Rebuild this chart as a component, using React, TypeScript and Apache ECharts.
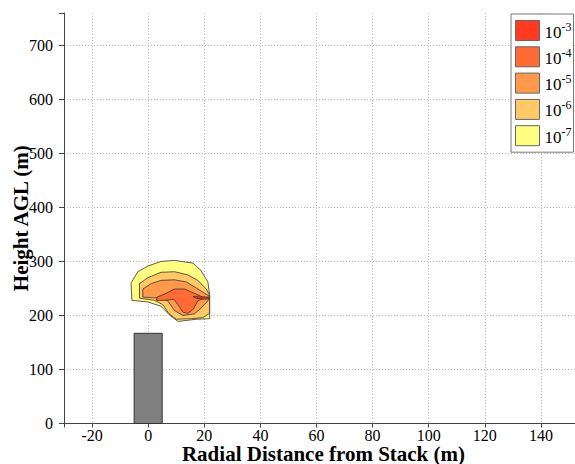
import React, { useEffect, useRef } from 'react';
import * as echarts from 'echarts';

// Concentration levels (exponents of 10), drawn from lowest to highest
const levelExponents = ['-7', '-6', '-5', '-4', '-3'];
const levelColors = ['#ffff80', '#ffc966', '#ff9a4d', '#ff6a35', '#ff3a1f'];

// Contour polygons [radial distance (m), height (m)]
const contour7: [number, number][] = [
  [-5.8, 228], [-6.1, 260], [-3.7, 281], [0.1, 292], [4.6, 300], [9.4, 302],
  [16.0, 297], [18.7, 284], [21.3, 262], [21.9, 238], [21.9, 194], [17.1, 193],
  [10.6, 189], [7.6, 201], [4.6, 217], [-0.1, 225],
];
const contour6: [number, number][] = [
  [-3.1, 232], [-3.1, 259], [-0.1, 270], [4.6, 280], [9.4, 281], [14.2, 275],
  [17.7, 265], [20.7, 249], [21.9, 238], [21.9, 204], [19.5, 196], [15.4, 194],
  [10.0, 193], [7.3, 204], [5.2, 220], [2.3, 228],
];
const contour5: [number, number][] = [
  [-1.9, 234], [-1.9, 249], [1.1, 259], [4.6, 265], [9.4, 266], [13.6, 262],
  [17.1, 251], [20.1, 241], [21.9, 236], [21.3, 227], [18.9, 214], [16.5, 203],
  [12.4, 200], [9.4, 209], [7.0, 227], [4.0, 232],
];
const contour4: [number, number][] = [
  [2.9, 228], [3.2, 234], [6.4, 241], [9.4, 249], [13.0, 249], [16.5, 241],
  [19.5, 234], [21.9, 233], [19.5, 231], [17.7, 227], [16.0, 211], [14.2, 204],
  [12.4, 206], [10.6, 220], [9.2, 230], [5.8, 228],
];
const contour3: [number, number][] = [
  [16.0, 235], [19.5, 234], [21.9, 234], [21.9, 231], [19.5, 230], [17.1, 232],
];
const contours = [contour7, contour6, contour5, contour4, contour3];

// Stack
const stackX = [-5, 5];
const stackHeight = 167;

// Tick labels
const xTicks = [-20, 0, 20, 40, 60, 80, 100, 120, 140];
const yTicks = [0, 100, 200, 300, 400, 500, 600, 700];

const FONT = '"Liberation Serif", "Times New Roman", serif';

export default function App() {
  const ref = useRef<HTMLDivElement>(null);
  useEffect(() => {
    if (!ref.current) return;
    const chart = echarts.init(ref.current, null, { renderer: 'svg' });

    const contourSeries = contours.map((pts, i) => ({
      type: 'custom',
      name: levelExponents[i],
      coordinateSystem: 'cartesian2d',
      silent: true,
      z: 3 + i,
      itemStyle: { color: levelColors[i] },
      data: [[pts[0][0], pts[0][1]]],
      renderItem: (_p: any, api: any) => ({
        type: 'polygon',
        shape: { points: pts.map((p) => api.coord(p)) },
        style: { fill: levelColors[i], stroke: '#3a3030', lineWidth: 0.8 },
      }),
    }));

    const stackSeries = {
      type: 'custom',
      name: 'stack',
      coordinateSystem: 'cartesian2d',
      silent: true,
      z: 2,
      data: [[stackX[0], stackHeight]],
      renderItem: (_p: any, api: any) => {
        const tl = api.coord([stackX[0], stackHeight]);
        const br = api.coord([stackX[1], 0]);
        return {
          type: 'rect',
          shape: { x: tl[0], y: tl[1], width: br[0] - tl[0], height: br[1] - tl[1] },
          style: { fill: '#808080', stroke: '#333', lineWidth: 1 },
        };
      },
    };

    chart.setOption({
      animation: false,
      backgroundColor: '#fff',
      grid: {
        left: 64,
        top: 13,
        width: 519,
        height: 410.5,
        containLabel: false,
        outerBoundsMode: 'none',
      },
      xAxis: {
        type: 'value',
        min: -30,
        max: 155,
        minInterval: 20,
        maxInterval: 20,
        splitNumber: 9,
        name: 'Radial Distance from Stack (m)',
        nameLocation: 'middle',
        nameGap: 20,
        nameMoveOverlap: false,
        nameTextStyle: {
          fontFamily: FONT,
          fontWeight: 'bold',
          fontSize: 21,
          lineHeight: 21,
          color: '#000',
        },
        axisLine: { show: true, onZero: false, lineStyle: { color: '#444', width: 1 } },
        axisTick: { show: true, inside: false, length: 4, lineStyle: { color: '#444' } },
        axisLabel: {
          fontFamily: FONT,
          fontSize: 16,
          lineHeight: 16,
          color: '#000',
          margin: 4,
          formatter: (v: number) => (xTicks.includes(v) ? String(v) : ''),
        },
        splitLine: {
          show: true,
          showMinLine: false,
          showMaxLine: false,
          lineStyle: { color: '#b8b8b8', type: [1, 2], width: 1 },
        },
      },
      yAxis: {
        type: 'value',
        min: 0,
        max: 760,
        interval: 100,
        name: 'Height AGL (m)',
        nameLocation: 'middle',
        nameGap: 33,
        nameMoveOverlap: false,
        nameTextStyle: { fontFamily: FONT, fontWeight: 'bold', fontSize: 21, color: '#000' },
        axisLine: { show: true, onZero: false, lineStyle: { color: '#444', width: 1 } },
        axisTick: { show: true, inside: false, length: 5, lineStyle: { color: '#444' } },
        axisLabel: {
          fontFamily: FONT,
          fontSize: 16,
          color: '#000',
          margin: 11,
          formatter: (v: number) => (yTicks.includes(v) ? String(v) : ''),
        },
        splitLine: {
          show: true,
          showMinLine: false,
          showMaxLine: false,
          lineStyle: { color: '#b8b8b8', type: [1, 2], width: 1 },
        },
      },
      legend: {
        show: true,
        orient: 'vertical',
        left: 511,
        top: 14,
        padding: [6, 2, 6, 4],
        itemWidth: 24,
        itemHeight: 20,
        itemGap: 5.3,
        icon: 'rect',
        backgroundColor: '#fff',
        borderColor: '#777',
        borderWidth: 1,
        borderRadius: 0,
        selectedMode: false,
        itemStyle: { borderColor: '#666', borderWidth: 1 },
        data: [...levelExponents].reverse(),
        formatter: (name: string) => `{a|10}{b|${name}}`,
        textStyle: {
          fontFamily: FONT,
          color: '#000',
          rich: {
            a: { fontFamily: FONT, fontSize: 17, color: '#000', lineHeight: 20, verticalAlign: 'bottom' },
            b: { fontFamily: FONT, fontSize: 12, color: '#000', lineHeight: 20, verticalAlign: 'top' },
          },
        },
      },
      series: [stackSeries, ...contourSeries],
    });
    return () => chart.dispose();
  }, []);
  return (
    <div
      ref={ref}
      style={{ position: 'absolute', left: 0, top: 0, width: 575, height: 464 }}
    />
  );
}
